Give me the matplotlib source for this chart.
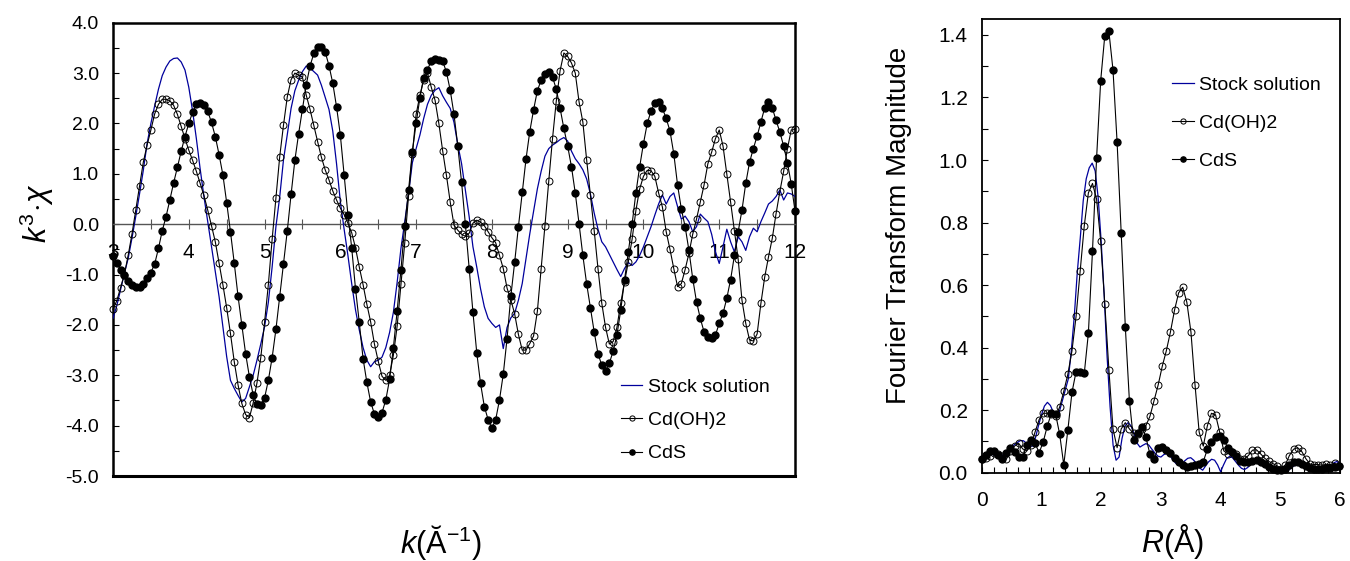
import numpy as np
import matplotlib.pyplot as plt
from matplotlib.ticker import MultipleLocator, FormatStrFormatter

plt.rcParams['font.family'] = ['Liberation Sans', 'DejaVu Sans']
plt.rcParams['mathtext.fontset'] = 'custom'
plt.rcParams['mathtext.rm'] = 'Liberation Sans'
plt.rcParams['mathtext.it'] = 'Liberation Sans:italic'

# ---- k-space data (k from 3 to 12, step 0.05) ----
k = np.round(np.arange(3.0, 12.001, 0.05), 2)

stock_k = [-1.87, -1.62, -1.30, -0.98, -0.68, -0.28, 0.15, 0.60, 1.07, 1.60,
           2.00, 2.35, 2.68, 2.95, 3.12, 3.24, 3.29, 3.30, 3.22, 3.06,
           2.72, 2.25, 1.70, 1.10, 0.55, 0.05, -0.45, -0.95, -1.44, -2.04,
           -2.63, -3.10, -3.26, -3.40, -3.53, -3.46, -3.23, -3.00, -2.70, -2.38,
           -2.04, -1.55, -0.85, -0.05, 0.54, 1.28, 1.78, 2.30, 2.65, 2.86,
           3.03, 3.14, 3.10, 3.03, 2.96, 2.76, 2.52, 2.28, 1.85, 1.20,
           0.45, -0.10, -0.62, -1.18, -1.70, -2.10, -2.45, -2.70, -2.83, -2.73,
           -2.70, -2.64, -2.45, -2.15, -1.75, -1.15, -0.48, 0.05, 0.60, 1.22,
           1.50, 1.77, 2.10, 2.38, 2.56, 2.66, 2.71, 2.55, 2.42, 2.30,
           2.02, 1.58, 1.20, 0.67, 0.15, -0.45, -0.85, -1.28, -1.64, -1.87,
           -1.97, -2.05, -2.00, -2.47, -2.05, -1.86, -1.77, -1.51, -1.18, -0.68,
           -0.19, 0.26, 0.70, 1.05, 1.35, 1.50, 1.57, 1.62, 1.68, 1.72,
           1.65, 1.45, 1.30, 1.20, 1.08, 0.90, 0.60, 0.22, -0.10, -0.35,
           -0.45, -0.60, -0.75, -0.90, -1.04, -0.88, -0.76, -0.82, -0.75, -0.62,
           -0.45, -0.25, -0.05, 0.18, 0.40, 0.58, 0.40, 0.55, 0.62, 0.35,
           0.10, 0.16, 0.05, -0.15, -0.05, 0.20, 0.12, 0.05, -0.20, -0.55,
           -0.78, -0.45, -0.10, -0.35, -0.55, -0.25, -0.35, -0.52, -0.25, -0.08,
           -0.15, 0.05, 0.22, 0.40, 0.46, 0.55, 0.68, 0.48, 0.62, 0.60,
           0.55]

cdoh2_k = [-1.69, -1.52, -1.26, -1.00, -0.62, -0.20, 0.28, 0.76, 1.23, 1.57,
           1.87, 2.19, 2.38, 2.48, 2.48, 2.45, 2.36, 2.18, 1.94, 1.70,
           1.47, 1.27, 1.05, 0.81, 0.57, 0.28, -0.03, -0.35, -0.78, -1.20,
           -1.66, -2.17, -2.73, -3.19, -3.56, -3.78, -3.84, -3.55, -3.15, -2.65,
           -1.95, -1.20, -0.30, 0.52, 1.34, 1.97, 2.53, 2.87, 3.00, 2.96,
           2.92, 2.56, 2.28, 1.96, 1.64, 1.33, 1.08, 0.88, 0.66, 0.48,
           0.32, 0.19, 0.02, -0.17, -0.47, -0.85, -1.20, -1.59, -1.94, -2.38,
           -2.72, -3.02, -3.10, -3.00, -2.60, -2.02, -1.19, -0.37, 0.56, 1.39,
           2.18, 2.56, 2.87, 3.00, 2.72, 2.46, 2.00, 1.46, 0.97, 0.44,
           -0.02, -0.12, -0.20, -0.24, -0.18, 0.02, 0.08, 0.04, -0.03, -0.15,
           -0.27, -0.37, -0.62, -0.88, -1.27, -1.50, -1.78, -2.19, -2.50, -2.50,
           -2.37, -2.22, -1.73, -0.88, -0.03, 0.85, 1.70, 2.45, 3.05, 3.40,
           3.33, 3.20, 3.00, 2.43, 2.03, 1.28, 0.58, -0.13, -0.88, -1.57,
           -2.05, -2.38, -2.33, -2.05, -1.57, -1.15, -0.75, -0.30, 0.27, 0.70,
           0.95, 1.07, 1.06, 0.95, 0.62, 0.34, -0.15, -0.50, -0.88, -1.24,
           -1.18, -0.90, -0.58, -0.20, 0.10, 0.44, 0.78, 1.20, 1.43, 1.70,
           1.87, 1.55, 1.00, 0.44, -0.13, -0.70, -1.51, -1.97, -2.30, -2.32,
           -2.18, -1.57, -1.05, -0.65, -0.28, 0.21, 0.65, 1.05, 1.50, 1.87,
           1.88]

cds_k = [-0.63, -0.77, -0.91, -1.01, -1.13, -1.21, -1.25, -1.25, -1.18, -1.07,
         -0.96, -0.79, -0.48, -0.13, 0.15, 0.48, 0.82, 1.13, 1.45, 1.74,
         2.00, 2.22, 2.38, 2.41, 2.36, 2.24, 2.02, 1.74, 1.38, 0.98,
         0.43, -0.15, -0.77, -1.43, -2.00, -2.57, -3.03, -3.39, -3.58, -3.59,
         -3.45, -3.10, -2.65, -2.09, -1.44, -0.80, -0.13, 0.59, 1.27, 1.80,
         2.29, 2.77, 3.14, 3.39, 3.52, 3.51, 3.42, 3.15, 2.80, 2.33,
         1.77, 0.97, 0.19, -0.47, -1.28, -1.95, -2.67, -3.14, -3.53, -3.77,
         -3.82, -3.74, -3.49, -3.08, -2.45, -1.72, -0.90, -0.03, 0.67, 1.44,
         2.00, 2.51, 2.91, 3.07, 3.24, 3.27, 3.26, 3.24, 3.02, 2.66,
         2.18, 1.55, 0.83, 0.00, -0.88, -1.75, -2.55, -3.16, -3.62, -3.88,
         -4.05, -3.88, -3.49, -2.98, -2.27, -1.43, -0.76, -0.05, 0.63, 1.29,
         1.84, 2.27, 2.65, 2.86, 2.99, 3.02, 2.92, 2.68, 2.30, 1.90,
         1.55, 1.14, 0.62, 0.01, -0.62, -1.18, -1.66, -2.14, -2.57, -2.80,
         -2.91, -2.76, -2.52, -2.20, -1.71, -1.11, -0.55, 0.00, 0.62, 1.14,
         1.60, 2.00, 2.25, 2.41, 2.42, 2.30, 2.10, 1.85, 1.40, 0.78,
         0.30, -0.05, -0.52, -1.08, -1.54, -1.87, -2.14, -2.24, -2.25, -2.20,
         -1.97, -1.77, -1.47, -1.10, -0.62, -0.15, 0.28, 0.81, 1.23, 1.50,
         1.75, 2.03, 2.31, 2.43, 2.31, 2.06, 1.83, 1.55, 1.22, 0.80,
         0.26]

# ---- R-space data ----
r_pts = np.arange(88) * 0.0687     # marker grid
r_line = np.round(np.arange(0, 6.001, 0.05), 2)

stock_r = [0.040, 0.050, 0.058, 0.060, 0.057, 0.053, 0.052, 0.056, 0.064, 0.073,
           0.082, 0.090, 0.097, 0.103, 0.102, 0.094, 0.085, 0.085, 0.112, 0.150,
           0.185, 0.213, 0.225, 0.215, 0.193, 0.180, 0.195, 0.230, 0.265, 0.300,
           0.390, 0.500, 0.640, 0.750, 0.870, 0.940, 0.975, 0.990, 0.965, 0.880,
           0.740, 0.570, 0.370, 0.210, 0.088, 0.040, 0.050, 0.110, 0.150, 0.160,
           0.150, 0.125, 0.095, 0.082, 0.088, 0.093, 0.088, 0.075, 0.063, 0.053,
           0.050, 0.058, 0.062, 0.055, 0.042, 0.030, 0.025, 0.028, 0.038, 0.046,
           0.048, 0.040, 0.028, 0.015, 0.008, 0.022, 0.035, 0.043, 0.040, 0.025,
           0.003, 0.025, 0.045, 0.052, 0.048, 0.036, 0.024, 0.014, 0.010, 0.016,
           0.025, 0.032, 0.035, 0.033, 0.029, 0.022, 0.016, 0.014, 0.017, 0.017,
           0.013, 0.007, 0.004, 0.010, 0.018, 0.025, 0.028, 0.024, 0.018, 0.010,
           0.006, 0.012, 0.014, 0.010, 0.012, 0.019, 0.016, 0.020, 0.032, 0.036,
           0.025]

cdoh2_r = [0.043, 0.048, 0.055, 0.062, 0.060, 0.052, 0.043, 0.070, 0.085, 0.094,
           0.076, 0.070, 0.088, 0.130, 0.170, 0.190, 0.190, 0.188, 0.180, 0.210,
           0.260, 0.315, 0.390, 0.500, 0.645, 0.790, 0.895, 0.925, 0.875, 0.740,
           0.540, 0.330, 0.140, 0.080, 0.140, 0.160, 0.140, 0.126, 0.125, 0.140,
           0.150, 0.180, 0.230, 0.280, 0.340, 0.390, 0.450, 0.520, 0.575, 0.593,
           0.545, 0.450, 0.280, 0.130, 0.085, 0.150, 0.190, 0.185, 0.130, 0.070,
           0.060, 0.065, 0.060, 0.045, 0.043, 0.055, 0.072, 0.073, 0.060, 0.046,
           0.036, 0.029, 0.022, 0.013, 0.025, 0.055, 0.075, 0.080, 0.068, 0.045,
           0.028, 0.026, 0.026, 0.024, 0.027, 0.026, 0.030, 0.022]

cds_r = [0.044, 0.057, 0.070, 0.070, 0.058, 0.045, 0.063, 0.080, 0.065, 0.051,
         0.051, 0.088, 0.104, 0.094, 0.064, 0.099, 0.150, 0.190, 0.188, 0.123,
         0.025, 0.137, 0.257, 0.323, 0.321, 0.318, 0.446, 0.709, 1.006, 1.254,
         1.398, 1.411, 1.288, 1.057, 0.766, 0.467, 0.230, 0.105, 0.126, 0.147,
         0.115, 0.059, 0.043, 0.078, 0.082, 0.072, 0.062, 0.048, 0.035, 0.025,
         0.017, 0.021, 0.026, 0.027, 0.035, 0.075, 0.098, 0.115, 0.118, 0.105,
         0.080, 0.065, 0.055, 0.038, 0.034, 0.033, 0.036, 0.040, 0.035, 0.028,
         0.018, 0.012, 0.008, 0.008, 0.012, 0.025, 0.034, 0.035, 0.029, 0.020,
         0.014, 0.012, 0.013, 0.013, 0.014, 0.016, 0.018, 0.020]

blue = '#00009c'

fig = plt.figure(figsize=(13.5, 5.61), dpi=100)

# ---------------- left panel: k^3 chi ----------------
ax1 = fig.add_axes([0.0837, 0.1515, 0.5052, 0.808])
ax1.plot(k, stock_k, color=blue, lw=0.9, label='Stock solution', zorder=3)
ax1.plot(k, cdoh2_k, color='k', lw=0.8, marker='o', ms=5, mfc='none', mec='k',
         mew=0.7, label='Cd(OH)2', zorder=4, clip_on=False)
ax1.plot(k, cds_k, color='k', lw=0.8, marker='o', ms=5, mfc='k', mec='k',
         label='CdS', zorder=5, clip_on=False)
ax1.set_xlim(3, 12)
ax1.set_ylim(-5, 4)

ax1.spines['bottom'].set_position(('data', 0))
ax1.spines['bottom'].set_color('#555555')
ax1.spines['bottom'].set_linewidth(1.0)
for s in ['top', 'left', 'right']:
    ax1.spines[s].set_linewidth(1.8)
# bottom border of the frame (the x axis sits at zero)
ax1.plot([0, 1], [0, 0], transform=ax1.transAxes, color='k', lw=2.2, clip_on=False)

ax1.xaxis.set_major_locator(MultipleLocator(1))
ax1.xaxis.set_minor_locator(MultipleLocator(0.5))
ax1.yaxis.set_major_locator(MultipleLocator(1))
ax1.yaxis.set_minor_locator(MultipleLocator(0.5))
ax1.yaxis.set_major_formatter(FormatStrFormatter('%.1f'))
ax1.tick_params(axis='x', which='both', direction='inout', length=7, width=0.8,
                color='#555555', pad=10, labelsize=15)
ax1.tick_params(axis='y', which='both', direction='in', length=4, width=0.8,
                pad=10, labelsize=14)

ax1.set_xlabel(r'$k$(Ă$^{-1}$)', fontsize=22)
ax1.xaxis.set_label_coords(0.481, -0.104)
ax1.xaxis.label.set_va('top')
ax1.set_ylabel(r'$k^3\!\cdot\!\chi$', fontsize=22)
ax1.yaxis.set_label_coords(-0.083, 0.58)

ax1.legend(loc='upper left', bbox_to_anchor=(0.719, 0.254), frameon=False,
           fontsize=14, numpoints=1, handlelength=1.1, handletextpad=0.3,
           labelspacing=0.8, markerscale=0.75)

# ---------------- right panel: FT magnitude ----------------
ax2 = fig.add_axes([0.7272, 0.1574, 0.2654, 0.8082])
ax2.plot(r_line, stock_r, color=blue, lw=0.9, label='Stock solution', zorder=3)
ax2.plot(r_pts, cdoh2_r, color='k', lw=0.8, marker='o', ms=5, mfc='none', mec='k',
         mew=0.7, label='Cd(OH)2', zorder=4, clip_on=False)
ax2.plot(r_pts, cds_r, color='k', lw=0.8, marker='o', ms=5, mfc='k', mec='k',
         label='CdS', zorder=5, clip_on=False)
ax2.set_xlim(0, 6)
ax2.set_ylim(0, 1.45)
for s in ax2.spines.values():
    s.set_linewidth(1.3)

ax2.xaxis.set_major_locator(MultipleLocator(1))
ax2.xaxis.set_minor_locator(MultipleLocator(0.2))
ax2.yaxis.set_major_locator(MultipleLocator(0.2))
ax2.yaxis.set_minor_locator(MultipleLocator(0.1))
ax2.yaxis.set_major_formatter(FormatStrFormatter('%.1f'))
ax2.tick_params(axis='x', which='both', direction='in', length=4, width=0.8,
                pad=13, labelsize=15)
ax2.tick_params(axis='y', which='both', direction='in', length=4, width=0.8,
                pad=10, labelsize=15)

ax2.set_xlabel(r'$R$(Å)', fontsize=22)
ax2.xaxis.set_label_coords(0.531, -0.108)
ax2.xaxis.label.set_va('top')
ax2.set_ylabel('Fourier Transform Magnitude', fontsize=20)
ax2.yaxis.set_label_coords(-0.195, 0.546)

ax2.legend(loc='upper left', bbox_to_anchor=(0.483, 0.913), frameon=False,
           fontsize=14, numpoints=1, handlelength=1.1, handletextpad=0.3,
           labelspacing=1.05, markerscale=0.75)

fig.savefig('out.png', dpi=100)
